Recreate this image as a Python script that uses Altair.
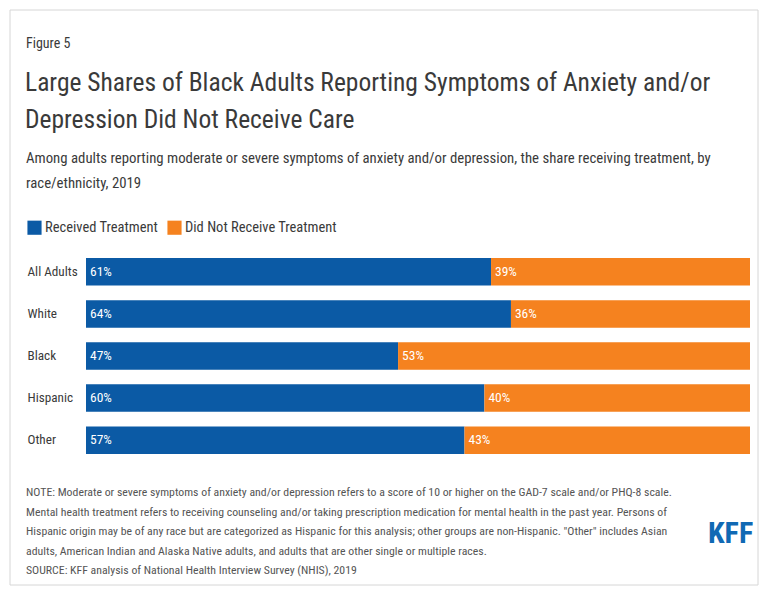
import altair as alt
import pandas as pd

categories = ["All Adults", "White", "Black", "Hispanic", "Other"]
received = [61, 64, 47, 60, 57]
not_received = [39, 36, 53, 40, 43]
groups = ["Received Treatment", "Did Not Receive Treatment"]
colors = ["#0B5AA5", "#F5821F"]

FONT = "Roboto Condensed"

rows = []
for c, r, n in zip(categories, received, not_received):
    rows.append({"category": c, "group": groups[0], "value": r, "ord": 0})
    rows.append({"category": c, "group": groups[1], "value": n, "ord": 1})
df = pd.DataFrame(rows)

base = alt.Chart(df).transform_stack(
    stack="value", groupby=["category"], as_=["v0", "v1"],
    sort=[alt.SortField("ord", order="ascending")]
)

y_enc = alt.Y("category:N", sort=categories, title=None,
              scale=alt.Scale(paddingInner=0.345, paddingOuter=0),
              axis=alt.Axis(domain=False, ticks=False, labelAlign="left",
                            labelPadding=59, labelFontSize=13.2, labelFont=FONT,
                            labelFontWeight=400, labelColor="#3a3a3a"))

bars = base.mark_bar(size=27.5).encode(
    x=alt.X("v0:Q", scale=alt.Scale(domain=[0, 100]), axis=None),
    x2="v1:Q",
    y=y_enc,
    color=alt.Color("group:N", scale=alt.Scale(domain=groups, range=colors),
                    legend=alt.Legend(title=None, orient="none", legendX=-59, legendY=-38,
                                      direction="horizontal", symbolType="square",
                                      symbolSize=200, symbolStrokeWidth=0,
                                      labelFont=FONT, labelFontSize=14.5, labelLimit=0,
                                      labelFontWeight=400,
                                      labelColor="#3a3a3a", labelOffset=3,
                                      columnPadding=8)),
)

labels = base.mark_text(align="left", dx=4, font=FONT, fontSize=13.5, fontWeight=400,
                        color="white").encode(
    x=alt.X("v0:Q"),
    y=alt.Y("category:N", sort=categories),
    text=alt.Text("pct:N"),
).transform_calculate(pct="datum.value + '%'")

one = pd.DataFrame({"a": [0]})

def txt(text, x, y, size, color="#3a3a3a", weight=400, font=FONT, lh=None):
    kw = {}
    if lh is not None:
        kw["lineHeight"] = lh
    return alt.Chart(one).mark_text(text=text, align="left", baseline="alphabetic",
                                    font=font, fontSize=size, color=color,
                                    fontWeight=weight, **kw).encode(
        x=alt.value(x), y=alt.value(y))

frame = alt.Chart(one).mark_rect(fill=None, stroke="#d6d6d6", strokeWidth=1).encode(
    x=alt.value(-76), x2=alt.value(672), y=alt.value(-248), y2=alt.value(327))

fig = txt("Figure 5", -60, -210, 14)
title = txt(["Large Shares of Black Adults Reporting Symptoms of Anxiety and/or",
             "Depression Did Not Receive Care"], -61, -167, 25.5, lh=37)
sub = txt(["Among adults reporting moderate or severe symptoms of anxiety and/or depression, the share receiving treatment, by",
           "race/ethnicity, 2019"], -60, -95, 14.8, lh=25)
note = txt(["NOTE: Moderate or severe symptoms of anxiety and/or depression refers to a score of 10 or higher on the GAD-7 scale and/or PHQ-8 scale.",
            "Mental health treatment refers to receiving counseling and/or taking prescription medication for mental health in the past year. Persons of",
            "Hispanic origin may be of any race but are categorized as Hispanic for this analysis; other groups are non-Hispanic. \"Other\" includes Asian",
            "adults, American Indian and Alaska Native adults, and adults that are other single or multiple races.",
            "SOURCE: KFF analysis of National Health Interview Survey (NHIS), 2019"],
           -60, 238, 11.8, color="#555555", lh=19.5)
logo = txt("KFF", 622, 285, 30, color="#1069B4", weight="bold")

chart = alt.layer(frame, bars, labels, fig, title, sub, note, logo).properties(
    width=664, height=196,
    padding={"left": 86, "top": 258, "right": 18, "bottom": 138},
    autosize=alt.AutoSizeParams(type="none"),
    background="white",
).configure_view(stroke=None)

chart.save("out.html", embed_options={"renderer": "svg", "actions": False})
